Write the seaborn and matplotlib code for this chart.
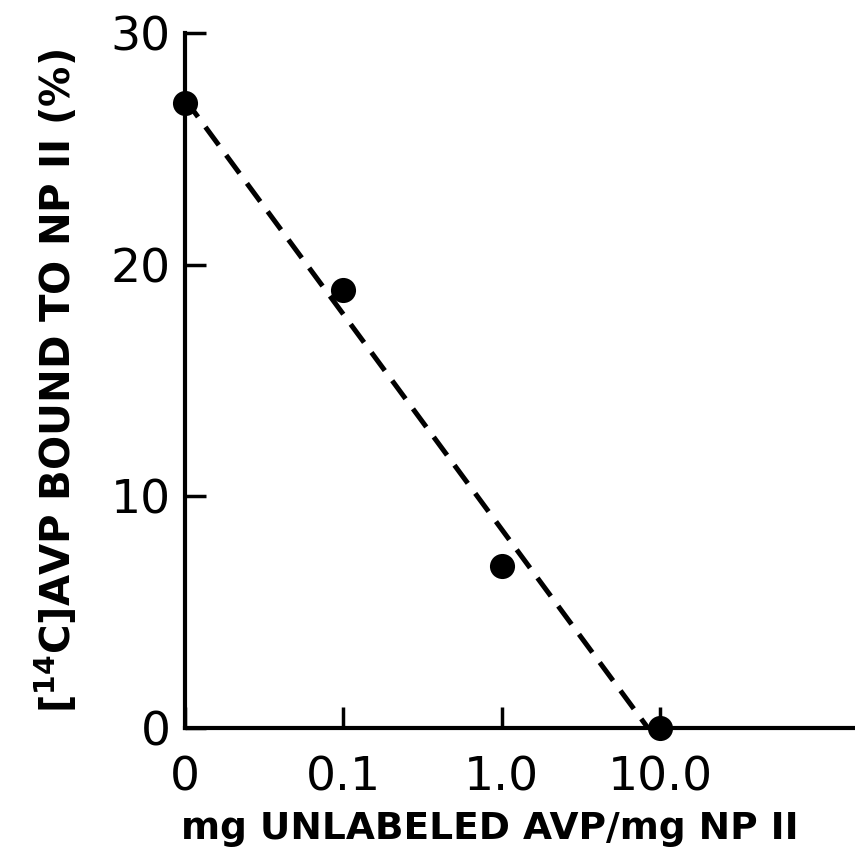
import numpy as np
import pandas as pd
import matplotlib
matplotlib.use("Agg")
import matplotlib.pyplot as plt
import seaborn as sns

# data
dose_labels = ["0", "0.1", "1.0", "10.0"]
bound_pct = [27.0, 18.9, 7.0, 0.0]

data = pd.DataFrame({"pos": np.arange(len(dose_labels)), "bound": bound_pct})

# fitted line, drawn from 0 until it meets the x axis
slope, intercept = np.polyfit(data["pos"], data["bound"], 1)
x_end = -intercept / slope
fit = pd.DataFrame({"pos": [0, x_end], "bound": [intercept, 0]})

sns.set_style("ticks")
plt.rcParams["font.family"] = ["DejaVu Sans"]
plt.rcParams["mathtext.fontset"] = "dejavusans"

fig = plt.figure(figsize=(8.55, 8.58), dpi=100)
ax = fig.add_axes([0.216, 0.1515, 0.784, 0.81])

sns.lineplot(data=fit, x="pos", y="bound", ax=ax, color="black",
             linewidth=3.6, dashes=False, linestyle=(0, (4.5, 2.5)))
sns.scatterplot(data=data, x="pos", y="bound", ax=ax, color="black",
                s=280, edgecolor="black", zorder=5, clip_on=False)

ax.set_xlim(0, 4.23)
ax.set_ylim(0, 30)
ax.set_xticks(data["pos"])
ax.set_xticklabels(dose_labels)
ax.set_yticks([0, 10, 20, 30])

for side in ["top", "right"]:
    ax.spines[side].set_visible(False)
for side in ["left", "bottom"]:
    ax.spines[side].set_linewidth(3)
    ax.spines[side].set_color("black")

ax.tick_params(direction="in", length=15, width=2.5, labelsize=34,
               colors="black")
ax.tick_params(axis="x", pad=20)
ax.tick_params(axis="y", pad=10)

ax.set_xlabel("mg UNLABELED AVP/mg NP II", fontsize=27,
              fontweight="bold", color="black")
ax.xaxis.set_label_coords(0.455, -0.12)
ax.set_ylabel(r"[$^{\mathbf{14}}$C]AVP BOUND TO NP II (%)", fontsize=29,
              fontweight="bold", labelpad=22, color="black")

fig.savefig("out.png", dpi=100)
